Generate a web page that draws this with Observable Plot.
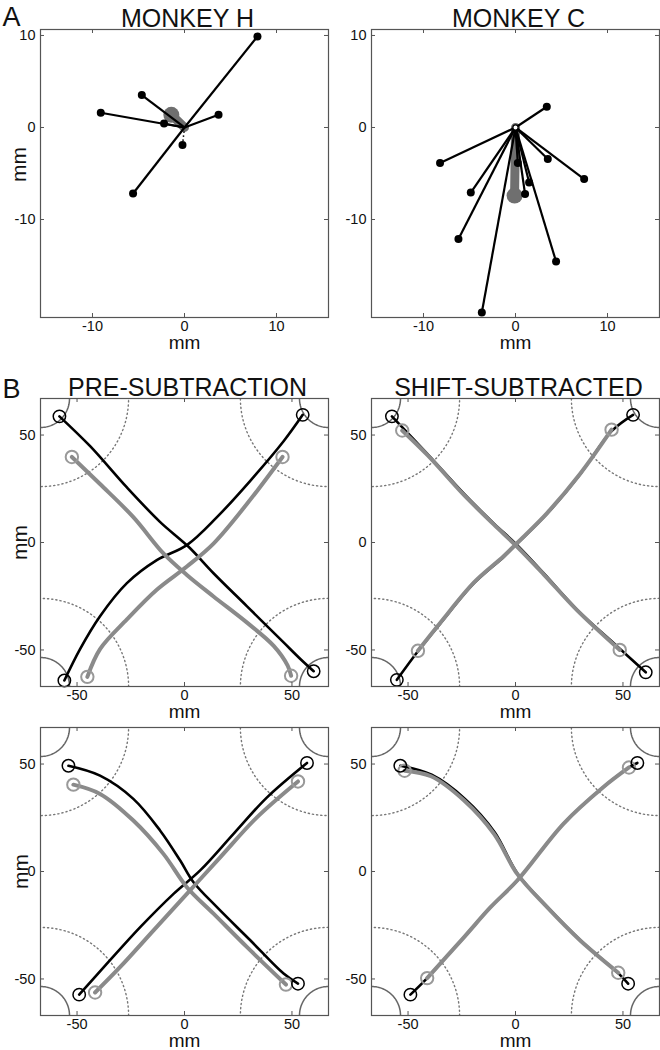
<!DOCTYPE html>
<html>
<head>
<meta charset="utf-8">
<script src="https://cdn.jsdelivr.net/npm/d3@7"></script>
<script src="https://cdn.jsdelivr.net/npm/@observablehq/plot@0.6"></script>
<style>
  html, body { margin: 0; padding: 0; background: #fff; overflow: hidden; }
  #fig { position: relative; width: 660px; height: 1050px; background: #fff; }
  #fig svg { position: absolute; }
</style>
</head>
<body>
<div id="fig"></div>
<script>
// ---------- tick labels / limits ----------
const ticksA = [-10, 0, 10];
const ticksB = [-50, 0, 50];
const limAx = [-15.65, 15.65];
const limAy = [-20.65, 10.65];
const limB = [-67, 67];
const origin = [0, 0];

// ---------- Panel A : end points of shifts (mm) ----------
const monkeyHEnds = [[7.93, 9.89], [-4.64, 3.52], [-9.1, 1.6], [-2.22, 0.43], [3.7, 1.38], [-5.59, -7.17]];
const monkeyHDotted = [[-0.22, -1.91]];
const monkeyHMean = [[-1.43, 1.38]];
const monkeyCEnds = [[3.4, 2.25], [-8.2, -3.87], [3.51, -3.43], [7.46, -5.61], [-4.86, -7.07], [0.25, -3.87],
                     [1.48, -5.98], [1.04, -7.24], [-6.2, -12.13], [4.41, -14.57], [-3.66, -20.1]];
const monkeyCMean = [[-0.1, -7.4]];

// ---------- Panel B : corner circles ----------
const cornerCenters = [[-67, 67], [67, 67], [-67, -67], [67, -67]];
const innerRadius = 13.5;
const outerRadius = 41;

// ---------- Panel B : PRE-SUBTRACTION (top) ----------
const pre1BlackA = [[-58.2, 58.7], [-43.9, 44.8], [-26.8, 25.6], [-11.3, 9.5], [1.9, -2], [13.5, -14.3], [29.1, -29.7], [46.1, -46.5], [53.9, -54.2], [60.1, -59.9]];
const pre1BlackB = [[-55.9, -64.2], [-48.6, -49.6], [-39.3, -34.3], [-26.8, -18.9], [-12.9, -8.2], [1.1, -1.2], [15.1, 11.8], [30.6, 28.7], [46.1, 47.1], [55, 59.4]];
const pre1GrayA = [[-52.4, 39.8], [-39.3, 27.2], [-23.8, 11.8], [-9.8, -5.1], [1.1, -15.1], [13.5, -25.1], [29.1, -37.3], [41.5, -48.1], [48, -57.3], [49.6, -62]];
const pre1GrayB = [[-45.2, -62.5], [-39.3, -49.6], [-26.8, -35.8], [-12.9, -22], [1.1, -11.2], [13.5, -0.5], [29.1, 18], [45.6, 39.8]];
const pre1BlackTargets = [[-58.2, 58.7], [55, 59.4], [-55.9, -64.2], [60.1, -59.9]];
const pre1GrayTargets = [[-52.4, 39.8], [45.6, 39.8], [-45.2, -62.5], [49.6, -62]];

// ---------- Panel B : SHIFT-SUBTRACTED (top) ----------
const shift1BlackA = [[-57.5, 58.7], [-40.8, 41], [-23.9, 22.6], [-10, 8.8], [0.8, -1.2], [13.1, -14.3], [28.6, -31.2], [47.1, -48.1], [60.6, -60.4]];
const shift1BlackB = [[-55.2, -63.9], [-45.4, -50.6], [-34.7, -37.3], [-19.3, -18.9], [-5.4, -6.6], [0.8, -0.5], [14.7, 13.4], [30.1, 31.8], [44.7, 51.8], [54.7, 59.4]];
const shift1GrayA = [[-52.7, 52.1], [-40.8, 40.5], [-23.9, 22], [-10, 8.3], [0.8, -2], [13.1, -14.8], [28.6, -31.5], [48.5, -50]];
const shift1GrayB = [[-45.4, -50.4], [-34.7, -37], [-19.3, -18.6], [-5.4, -6.3], [0.8, -0.2], [14.7, 13.7], [30.1, 32], [44.7, 52.5]];
const shift1BlackTargets = [[-57.5, 58.7], [54.7, 59.4], [-55.2, -63.9], [60.6, -60.4]];
const shift1GrayTargets = [[-52.7, 52.1], [44.7, 52.5], [-45.4, -50.4], [48.5, -50]];

// ---------- Panel B : PRE-SUBTRACTION (bottom) ----------
const pre2BlackA = [[-54, 49.2], [-39.3, 44.6], [-23.8, 33.8], [-11.3, 19], [-2, 5.1], [4.2, -5], [15.1, -16.6], [30.6, -32], [46.1, -47.5], [52.8, -52.2]];
const pre2BlackB = [[-49, -57.3], [-36.1, -42.9], [-20.6, -25.9], [-5.1, -10.4], [7.3, 0.5], [22.8, 17.5], [38.4, 34.5], [57, 50.5]];
const pre2GrayA = [[-51.7, 40.4], [-39.3, 36.1], [-23.8, 23.7], [-9.8, 8.2], [1.1, -7.3], [13.5, -19.6], [29.1, -35.2], [47.2, -52.6]];
const pre2GrayB = [[-41.6, -56.3], [-29.9, -44.4], [-14.4, -27.4], [1.1, -10.4], [16.6, 6.6], [33.7, 25.2], [52.8, 41.9]];
const pre2BlackTargets = [[-54, 49.2], [57, 50.5], [-49, -57.3], [52.8, -52.2]];
const pre2GrayTargets = [[-51.7, 40.4], [52.8, 41.9], [-41.6, -56.3], [47.2, -52.6]];

// ---------- Panel B : SHIFT-SUBTRACTED (bottom) ----------
const shift2BlackA = [[-53.6, 49.2], [-39, 45], [-23.5, 33.8], [-9.6, 18.2], [0.8, -0.8], [14.7, -16.4], [30, -31.8], [47.8, -47.3], [52.4, -52.2]];
const shift2BlackB = [[-48.9, -57.3], [-41.1, -49.6], [-23.9, -30.5], [-11.6, -16.6], [0.8, -4.2], [22.3, 22.2], [40.8, 39.2], [52.8, 48.4], [56.7, 50.5]];
const shift2GrayA = [[-51.6, 46.9], [-39.3, 44.3], [-23.9, 33], [-10, 17.5], [0.8, -1.1], [14.7, -16.6], [30, -32], [47.8, -47.1]];
const shift2GrayB = [[-41.1, -49.6], [-23.9, -30.5], [-11.6, -16.6], [0.8, -4.2], [22.3, 22.2], [40.8, 39.2], [52.8, 48.4]];
const shift2BlackTargets = [[-53.6, 49.2], [56.7, 50.5], [-48.9, -57.3], [52.4, -52.2]];
const shift2GrayTargets = [[-51.6, 46.9], [52.8, 48.4], [-41.1, -49.6], [47.8, -47.1]];

// ---------- drawing ----------
const FONT = '"Liberation Sans", Arial, Helvetica, sans-serif';
const fig = document.getElementById("fig");
const S = 288;
const FRAME = "#555";
const px = d => d[0], py = d => d[1];

function circlePts(c, r) {
  return d3.range(0, 361, 3).map(a => [c[0] + r * Math.cos(a * Math.PI / 180), c[1] + r * Math.sin(a * Math.PI / 180)]);
}

function panel({frameLeft, frameTop, xDomain, yDomain, ticks, marks, title, letter, letterDy, ylabel, ylabelDx, ylabelDy = 0, mT}) {
  const mL = 44, mR = 4, mB = 44;
  const fmt = d => String(d);
  const all = [
    ...marks,
    Plot.frame({stroke: FRAME, strokeWidth: 1.2}),
    Plot.tickX(ticks, {x: d => d, insetTop: S - 4, stroke: FRAME}),
    Plot.tickX(ticks, {x: d => d, insetBottom: S - 4, stroke: FRAME}),
    Plot.tickY(ticks, {y: d => d, insetRight: S - 4, stroke: FRAME}),
    Plot.tickY(ticks, {y: d => d, insetLeft: S - 4, stroke: FRAME}),
    Plot.axisX(ticks, {tickSize: 0, tickPadding: 3, tickFormat: fmt, label: null, fontSize: 14.5, fill: "#111"}),
    Plot.axisY(ticks, {tickSize: 0, tickPadding: 5, tickFormat: fmt, label: null, fontSize: 14.5, fill: "#111"}),
    Plot.text(["mm"], {text: d => d, frameAnchor: "bottom", lineAnchor: "middle", textAnchor: "middle", dy: 25.5, fontSize: 19, fill: "#111"})
  ];
  if (ylabel) all.push(Plot.text(["mm"], {text: d => d, frameAnchor: "left", textAnchor: "middle", lineAnchor: "middle", rotate: -90, dx: ylabelDx, dy: ylabelDy, fontSize: 21, fill: "#111"}));
  if (title) all.push(Plot.text([title], {text: d => d, frameAnchor: "top", textAnchor: "middle", lineAnchor: "bottom", dy: -3, dx: 3, fontSize: 25, fill: "#111"}));
  if (letter) all.push(Plot.text([letter], {text: d => d, frameAnchor: "top-left", textAnchor: "start", lineAnchor: "bottom", dx: -38, dy: letterDy, fontSize: 27, fill: "#111"}));
  const chart = Plot.plot({
    width: S + mL + mR,
    height: S + mT + mB,
    marginLeft: mL, marginRight: mR, marginTop: mT, marginBottom: mB,
    x: {domain: xDomain, nice: false},
    y: {domain: yDomain, nice: false},
    style: {background: "none", fontFamily: FONT, fontSize: "15px", color: "#111", overflow: "visible"},
    marks: all
  });
  chart.style.left = (frameLeft - mL) + "px";
  chart.style.top = (frameTop - mT) + "px";
  chart.style.maxWidth = "none";
  fig.appendChild(chart);
}

function monkeyMarks(ends, mean, dotted, openOrigin) {
  const m = [
    Plot.link(mean, {x1: () => origin[0], y1: () => origin[1], x2: px, y2: py, stroke: "#6f6f6f", strokeWidth: 9, strokeLinecap: "round"}),
    Plot.dot(mean, {x: px, y: py, r: 8, fill: "#6f6f6f"}),
    Plot.link(ends, {x1: () => origin[0], y1: () => origin[1], x2: px, y2: py, stroke: "#000", strokeWidth: 2.2}),
    Plot.dot(ends, {x: px, y: py, r: 4, fill: "#000"})
  ];
  if (dotted.length) {
    m.push(Plot.link(dotted, {x1: () => origin[0], y1: () => origin[1], x2: px, y2: py, stroke: "#000", strokeWidth: 1.5, strokeDasharray: "1.5,2.5"}));
    m.push(Plot.dot(dotted, {x: px, y: py, r: 4, fill: "#000"}));
  }
  if (openOrigin) m.push(Plot.dot([origin], {x: px, y: py, r: 2.6, fill: "#fff", stroke: "#000", strokeWidth: 1.2}));
  return m;
}

function reachMarks(blackA, blackB, grayA, grayB, blackT, grayT) {
  const m = [];
  cornerCenters.forEach(c => {
    m.push(Plot.line(circlePts(c, outerRadius), {x: px, y: py, stroke: "#777", strokeWidth: 1.4, strokeDasharray: "1.2,3", clip: true}));
    m.push(Plot.line(circlePts(c, innerRadius), {x: px, y: py, stroke: "#666", strokeWidth: 1.5, clip: true}));
  });
  [blackA, blackB].forEach(t => m.push(Plot.line(t, {x: px, y: py, curve: "catmull-rom", stroke: "#000", strokeWidth: 2.6, strokeLinecap: "round"})));
  [grayA, grayB].forEach(t => m.push(Plot.line(t, {x: px, y: py, curve: "catmull-rom", stroke: "#8a8a8a", strokeWidth: 4, strokeLinecap: "round"})));
  m.push(Plot.dot(grayT, {x: px, y: py, r: 6.2, fill: "none", stroke: "#999", strokeWidth: 2}));
  m.push(Plot.dot(blackT, {x: px, y: py, r: 6.2, fill: "none", stroke: "#000", strokeWidth: 1.5}));
  return m;
}

// Panel A
panel({frameLeft: 40, frameTop: 29.3, xDomain: limAx, yDomain: limAy, ticks: ticksA,
  marks: monkeyMarks(monkeyHEnds, monkeyHMean, monkeyHDotted, false),
  title: "MONKEY H", letter: "A", letterDy: -4, ylabel: true, ylabelDx: -21, ylabelDy: -9, mT: 34});
panel({frameLeft: 370.7, frameTop: 29.3, xDomain: limAx, yDomain: limAy, ticks: ticksA,
  marks: monkeyMarks(monkeyCEnds, monkeyCMean, [], true),
  title: "MONKEY C", ylabel: false, mT: 34});

// Panel B top row
panel({frameLeft: 40, frameTop: 398, xDomain: limB, yDomain: limB, ticks: ticksB,
  marks: reachMarks(pre1BlackA, pre1BlackB, pre1GrayA, pre1GrayB, pre1BlackTargets, pre1GrayTargets),
  title: "PRE-SUBTRACTION", letter: "B", letterDy: -1, ylabel: true, ylabelDx: -20, mT: 34});
panel({frameLeft: 370.7, frameTop: 398, xDomain: limB, yDomain: limB, ticks: ticksB,
  marks: reachMarks(shift1BlackA, shift1BlackB, shift1GrayA, shift1GrayB, shift1BlackTargets, shift1GrayTargets),
  title: "SHIFT-SUBTRACTED", ylabel: false, mT: 34});

// Panel B bottom row
panel({frameLeft: 40, frameTop: 727, xDomain: limB, yDomain: limB, ticks: ticksB,
  marks: reachMarks(pre2BlackA, pre2BlackB, pre2GrayA, pre2GrayB, pre2BlackTargets, pre2GrayTargets),
  ylabel: true, ylabelDx: -19, mT: 6});
panel({frameLeft: 370.7, frameTop: 727, xDomain: limB, yDomain: limB, ticks: ticksB,
  marks: reachMarks(shift2BlackA, shift2BlackB, shift2GrayA, shift2GrayB, shift2BlackTargets, shift2GrayTargets),
  ylabel: false, mT: 6});
</script>
</body>
</html>
